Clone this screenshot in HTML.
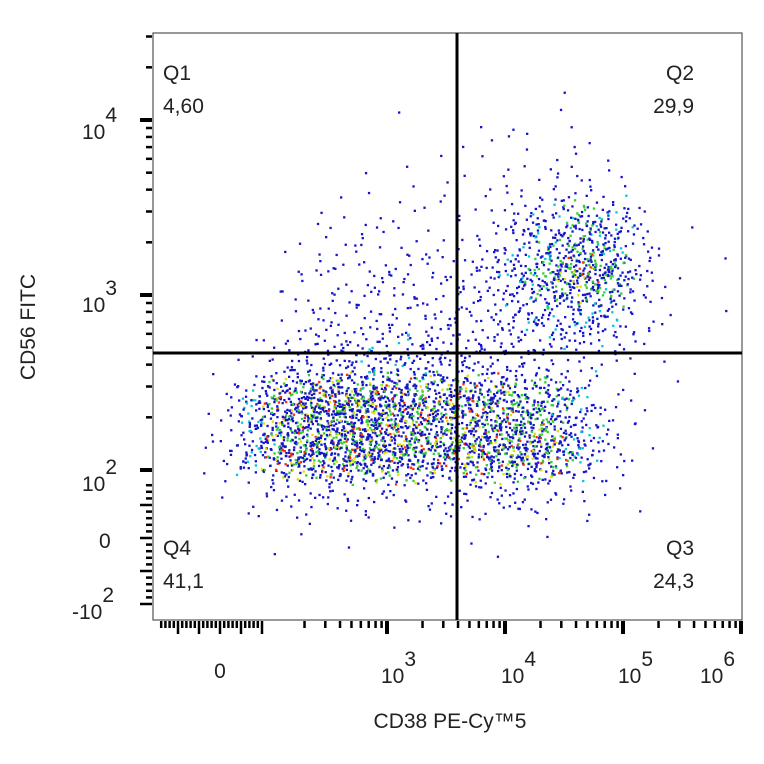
<!DOCTYPE html>
<html><head><meta charset="utf-8"><style>
html,body{margin:0;padding:0;background:#fff;}
svg{display:block;font-family:"Liberation Sans",sans-serif;}
</style></head><body>
<svg id="chart" width="764" height="764" viewBox="0 0 764 764" xmlns="http://www.w3.org/2000/svg">
<rect x="0" y="0" width="764" height="764" fill="#fff"/>
<g id="dots"></g>
<rect x="153" y="33" width="589" height="587" fill="none" stroke="#555" stroke-width="1.2"/>
<g id="xticks"></g>
<g id="yticks"></g>
<line x1="457" y1="33" x2="457" y2="620" stroke="#000" stroke-width="3"/>
<line x1="153" y1="353" x2="742" y2="353" stroke="#000" stroke-width="3"/>
<g font-size="21" fill="#222">
<text x="163" y="80">Q1</text>
<text x="163" y="113">4,60</text>
<text x="694" y="80" text-anchor="end">Q2</text>
<text x="694" y="113" text-anchor="end">29,9</text>
<text x="163" y="555">Q4</text>
<text x="163" y="588">41,1</text>
<text x="694" y="555" text-anchor="end">Q3</text>
<text x="694" y="588" text-anchor="end">24,3</text>
</g>
<g font-size="21" fill="#222">
<text x="220" y="678" text-anchor="middle">0</text>
<text x="381" y="683">10<tspan dy="-17">3</tspan></text>
<text x="501" y="683">10<tspan dy="-17">4</tspan></text>
<text x="618" y="683">10<tspan dy="-17">5</tspan></text>
<text x="700" y="683">10<tspan dy="-17">6</tspan></text>
<text x="82" y="139">10<tspan dy="-17">4</tspan></text>
<text x="82" y="312">10<tspan dy="-17">3</tspan></text>
<text x="82" y="491">10<tspan dy="-17">2</tspan></text>
<text x="99" y="548">0</text>
<text x="72" y="619">-10<tspan dy="-17">2</tspan></text>
</g>
<text x="450" y="728" font-size="21" text-anchor="middle" fill="#222">CD38 PE-Cy™5</text>
<text transform="translate(35,327) rotate(-90)" font-size="21" text-anchor="middle" fill="#222">CD56 FITC</text>
</svg>
<script>
// density grid: x bins of 0.25 decade-units from 1.0, y bins of 0.25 from 1.25
const xBinStart = 1.0, yBinStart = 1.25, binSize = 0.25;
const row0 = [0,0,0,0,0,0,0,0,0,0,0,0,0,0,0,0,0,0,0,0];
const row1 = [0,0,0,0,1,1,1,0,1,0,1,1,0,1,0,0,0,0,0,0];
const row2 = [0,0,2,6,12,15,15,15,12,12,15,18,18,15,9,3,1,0,0,0];
const row3 = [0,0,12,60,125,150,165,165,135,120,130,145,145,115,60,15,2,0,0,0];
const row4 = [0,0,8,55,125,160,175,175,150,125,120,120,105,80,42,10,2,0,0,0];
const row5 = [0,0,0,5,15,25,35,40,40,35,30,25,20,15,10,5,3,2,0,0];
const row6 = [0,0,0,0,5,10,12,15,15,15,15,20,30,45,50,40,10,2,0,1];
const row7 = [0,0,0,0,3,8,10,12,12,12,12,25,55,95,130,105,25,2,0,1];
const row8 = [0,0,0,0,0,3,5,6,6,4,4,10,28,50,75,60,15,1,0,0];
const row9 = [0,0,0,0,0,0,1,2,2,2,3,4,6,8,10,6,1,0,0,0];
const row10 = [0,0,0,0,0,0,0,0,1,0,2,2,3,4,3,0,0,0,0,0];
const row11 = [0,0,0,0,0,0,0,0,1,0,0,0,0,1,0,0,0,0,0,0];
const row12 = [0,0,0,0,0,0,0,0,0,0,0,0,0,0,0,0,0,0,0,0];
const grid = [row0,row1,row2,row3,row4,row5,row6,row7,row8,row9,row10,row11,row12];

const NS = "http://www.w3.org/2000/svg";
function xScale(u){ return 387 + (u-3)*118; }
function yScale(v){ return 295 - (v-3)*175; }
function halton(i,b){ let f=1,r=0; while(i>0){ f/=b; r+=f*(i%b); i=Math.floor(i/b);} return r; }
const cols = ["#1414c8","#00c8d8","#30d030","#e0e000","#ff2a00"];
const dots = document.getElementById('dots');
let gi = 1;
grid.forEach((row,j)=>{
  row.forEach((c,i)=>{
    for(let k=0;k<c;k++){
      const a = halton(gi,2), b = halton(gi,3), e = halton(gi,5);
      const sx = (a + halton(gi,7)) / 2 * 1.9 - 0.45;
      const sy = (b + e) / 2 * 1.7 - 0.35;
      const u = xBinStart + binSize*(i + sx);
      const v = yBinStart + binSize*(j + sy);
      gi++;
      const h = (k*0.618034 + i*0.31 + j*0.17) % 1;
      let col = cols[0];
      if (c>110 && h<0.07) col = cols[4];
      else if (c>110 && h<0.18) col = cols[3];
      else if (c>70 && h<0.4) col = cols[2];
      else if (c>35 && h<0.24) col = cols[1];
      const r = document.createElementNS(NS,'rect');
      
      
      r.setAttribute('x', xScale(u).toFixed(1));
      r.setAttribute('y', yScale(v).toFixed(1));
      r.setAttribute('width', 2.3);
      r.setAttribute('height', 2.3);
      r.setAttribute('fill', col);
      dots.appendChild(r);
    }
  });
});

const xt = document.getElementById('xticks');
const yt = document.getElementById('yticks');
function tick(g, x1,y1,x2,y2,w){
  const l = document.createElementNS(NS,'line');
  
  
  l.setAttribute('x1',x1); l.setAttribute('y1',y1); l.setAttribute('x2',x2); l.setAttribute('y2',y2);
  l.setAttribute('stroke','#000'); l.setAttribute('stroke-width',w);
  g.appendChild(l);
}
for(let d=2; d<=5; d++){
  for(let m=1;m<=9;m++){
    const u = d + Math.log10(m);
    if (d===2 && m===1) continue;
    const px = xScale(u);
    tick(xt, px, 621, px, m===1?634:628, m===1?4:2.5);
  }
}
tick(xt, xScale(6), 621, xScale(6), 634, 4);
for(let k=-14;k<=10;k++){
  const px = 220 + k*4.2;
  tick(xt, px, 621, px, (k%5===0)?634:628, 2.5);
}
for(let d=2; d<=4; d++){
  for(let m=1;m<=9;m++){
    const v = d + Math.log10(m);
    if (v>4.5) continue;
    const py = yScale(v);
    tick(yt, 140, py, 152, py, m===1?4:2.5);
    if(m!==1) yt.lastChild.setAttribute('x1',146);
  }
}
for(let k=-10;k<=8;k++){
  const py = 538 - k*6.6;
  tick(yt, (k%5===0)?140:146, py, 152, py, 2.5);
}
</script>
</body></html>
